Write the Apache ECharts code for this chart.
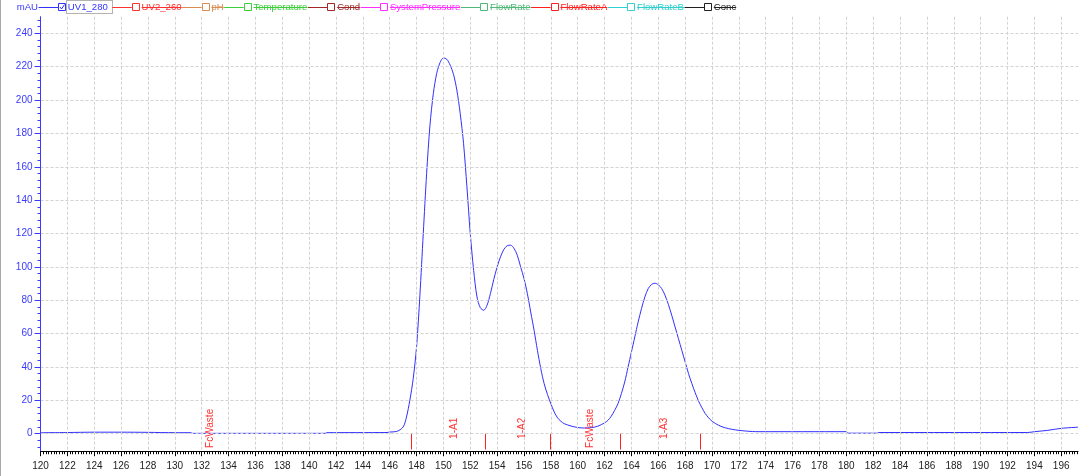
<!DOCTYPE html>
<html><head><meta charset="utf-8">
<script src="https://cdn.jsdelivr.net/npm/echarts@6/dist/echarts.min.js"></script>
<style>html,body{margin:0;padding:0;background:#fff}#c{width:1080px;height:476px}</style>
</head><body><div id="c"></div>
<script>
// ---- data ----
const uvTime = [120,122,124,126,128,130,131.2,131.3,136,141.2,141.3,145.8,146.0,146.5,
  147.0,147.25,147.5,147.75,148.0,148.25,148.5,148.75,149.0,149.25,149.5,149.75,150.0,150.25,150.5,150.75,
  151.0,151.25,151.5,151.75,152.0,152.25,152.5,152.75,153.0,153.25,153.5,153.75,154.0,154.25,154.5,154.75,
  155.0,155.25,155.5,155.75,156.0,156.25,156.5,156.75,157.0,157.25,157.5,157.75,158.0,158.25,158.5,158.75,
  159.0,159.5,160.0,160.5,161.0,161.5,162.0,162.25,162.5,162.75,163.0,163.25,163.5,163.75,164.0,164.25,
  164.5,164.75,165.0,165.25,165.5,165.75,166.0,166.25,166.5,166.75,167.0,167.25,167.5,167.75,168.0,168.25,
  168.5,168.75,169.0,169.25,169.5,169.75,170.0,170.5,171.0,171.5,172.0,172.5,173.0,173.5,
  180,180.1,182.3,182.4,193.5,194,195,196,197.25];
const uvValue = [0.6,0.7,0.9,0.9,0.8,0.6,0.6,0.2,0.2,0.2,0.6,0.7,1.0,1.3,
  4,10,20,33,52,83,120,156,185,204,216,222.5,225.3,224.5,221,215.5,
  206,192,174,148,120,98,82,75.5,74,77,84,92.5,100,106,110.5,112.7,
  113,111.2,107,100,93,84,73,62,50,39,30,23.5,18,13,9.5,7.4,
  6,4.6,3.7,3.4,3.6,4.5,6.5,8,10.5,14,18,24,31,40,49,58,
  67,75,82,87,89.5,90.2,89.3,87,83,77.5,71,64,57,50,43,36,
  30,24.5,19.5,15.5,12,9.5,7.5,5,3.5,2.6,2,1.6,1.3,1.2,
  1.2,0.3,0.3,0.7,0.7,1.2,2,3.2,3.9];
const fracMarkPos = [147.57,153.08,157.97,163.16,169.14];
const fracLabelText = ['FcWaste','1-A1','1-A2','FcWaste','1-A3'];
const fracLabelPos = [132.66,150.8,155.89,160.9,166.41];
const xTickLabels = [120,122,124,126,128,130,132,134,136,138,140,142,144,146,148,150,152,154,156,158,160,162,164,166,168,170,172,174,176,178,180,182,184,186,188,190,192,194,196];
const yTickLabels = [0,20,40,60,80,100,120,140,160,180,200,220,240];
const legendNames = ['UV1_280','UV2_260','pH','Temperature','Cond','SystemPressure','FlowRate','FlowRateA','FlowRateB','Conc'];
const legendColors = ['#3333ff','#ff3030','#d98c50','#3ccf3c','#a02828','#ff30ff','#50b878','#ff2020','#30d0d0','#202020'];
const legendChecked = [true,false,false,false,false,false,false,false,false,false];

// ---- layout ----
const X_MIN = 120, X_MAX = 197.25, Y_MIN = -10.5, Y_MAX = 250;
const xMinor = []; for (let i = 0; 120 + i * 0.2 <= 197.2 + 1e-9; i++) xMinor.push(+(120 + i * 0.2).toFixed(1));
const yMinor = []; for (let v = -8; v <= 248; v += 4) yMinor.push(v);
const FONT = '"Liberation Sans", Arial, sans-serif';
const BLUE = '#3a3aff';
const GRID = '#d2d2d2';

// legend graphics
const ctx = document.createElement('canvas').getContext('2d');
const LF = '9.6px ' + FONT;
ctx.font = LF;
const g = [];
g.push({type:'line', shape:{x1:0.5,y1:0,x2:0.5,y2:476}, style:{stroke:'#a8a8a8', lineWidth:1}, silent:true});
let x = 16.7;
const TY = 7.2;
g.push({type:'text', x:x, y:TY, style:{text:'mAU', fill:BLUE, font:LF, align:'left', verticalAlign:'middle'}});
x += ctx.measureText('mAU').width;
legendNames.forEach((name, i) => {
  const col = legendColors[i];
  const boxX = x + 20;
  g.push({type:'line', shape:{x1:x+0.5, y1:7.5, x2:boxX, y2:7.5}, style:{stroke:col, lineWidth:1}});
  const bx = Math.round(boxX) + 0.5;
  g.push({type:'rect', shape:{x:bx, y:3.5, width:7, height:7}, style:{fill:'#fff', stroke:col, lineWidth:1}});
  if (legendChecked[i]) {
    g.push({type:'polyline', shape:{points:[[bx+1.5,7],[bx+3,9],[bx+6,4.5]]}, style:{stroke:col, lineWidth:1, fill:null}});
  }
  const tx = boxX + 9.8;
  const w = ctx.measureText(name).width;
  g.push({type:'text', x:tx, y:TY, style:{text:name, fill:col, font:LF, align:'left', verticalAlign:'middle'}});
  if (legendChecked[i]) {
    g.push({type:'rect', shape:{x:Math.round(tx-2)+0.5, y:0.5, width:Math.round(w+6), height:13}, style:{fill:'none', stroke:'#666', lineWidth:1, lineDash:[1,1]}});
    x = tx + w + 4;
  } else {
    g.push({type:'line', shape:{x1:tx, y1:7.5, x2:tx+w, y2:7.5}, style:{stroke:col, lineWidth:1}});
    x = tx + w;
  }
});

const chart = echarts.init(document.getElementById('c'), null, {renderer:'canvas'});
chart.setOption({
  animation: false,
  backgroundColor: '#fff',
  grid: {left: 40.5, right: 2, top: 16.7, bottom: 24.8},
  graphic: g,
  xAxis: [
    {type:'value', min:X_MIN, max:X_MAX, position:'bottom', z:5,
     axisLine:{onZero:false, lineStyle:{color:'#000', width:1}},
     axisTick:{show:true, length:5, customValues:xTickLabels, lineStyle:{color:'#000'}},
     axisLabel:{customValues:xTickLabels, color:'#222', fontFamily:FONT, fontSize:10, margin:10},
     splitLine:{show:true, lineStyle:{color:GRID, width:1, type:[3,2]}}},
    {type:'value', min:X_MIN, max:X_MAX, position:'bottom', z:5,
     axisLine:{show:true, onZero:false, lineStyle:{color:'rgba(0,0,0,0)'}},
     axisTick:{show:true, length:3, customValues:xMinor, lineStyle:{color:'#000'}},
     axisLabel:{show:false}, splitLine:{show:false}}
  ],
  yAxis: [
    {type:'value', min:Y_MIN, max:Y_MAX, position:'left', z:5,
     axisLine:{show:true, onZero:false, lineStyle:{color:BLUE, width:1}},
     axisTick:{show:true, length:6, customValues:yTickLabels, lineStyle:{color:BLUE}},
     axisLabel:{customValues:yTickLabels, color:BLUE, fontFamily:FONT, fontSize:10, margin:8},
     splitLine:{show:true, lineStyle:{color:GRID, width:1, type:[3,2]}}},
    {type:'value', min:Y_MIN, max:Y_MAX, position:'left', z:5,
     axisLine:{show:true, onZero:false, lineStyle:{color:'rgba(0,0,0,0)'}},
     axisTick:{show:true, length:3, customValues:yMinor, lineStyle:{color:BLUE}},
     axisLabel:{show:false}, splitLine:{show:false}}
  ],
  series: [
    {type:'line', name:'UV1_280', xAxisIndex:0, yAxisIndex:0,
     data: uvTime.map((t, i) => [t, uvValue[i]]),
     symbol:'none', showSymbol:false, smooth:0.3,
     lineStyle:{color:'#3030ff', width:1}, z:3},
    {type:'custom', xAxisIndex:0, yAxisIndex:0, z:4,
     data: fracMarkPos.map(v => [v, 0]),
     renderItem: (params, api) => {
       const p0 = api.coord([api.value(0), 0]);
       const p1 = api.coord([api.value(0), -9.5]);
       const xx = Math.round(p0[0]) + 0.5;
       return {type:'line', shape:{x1:xx, y1:p0[1], x2:xx, y2:p1[1]}, style:{stroke:'#ff2020', lineWidth:1}};
     }},
    {type:'custom', xAxisIndex:0, yAxisIndex:0, z:4,
     data: fracLabelPos.map(v => [v, 3.2]),
     renderItem: (params, api) => {
       const p = api.coord([api.value(0), api.value(1)]);
       return {type:'text', x:p[0], y:p[1], rotation:Math.PI/2,
         style:{text:fracLabelText[params.dataIndex], fill:'#ff3333', font:'10px ' + FONT, align:'center', verticalAlign:'middle'}};
     }}
  ]
});
</script></body></html>
